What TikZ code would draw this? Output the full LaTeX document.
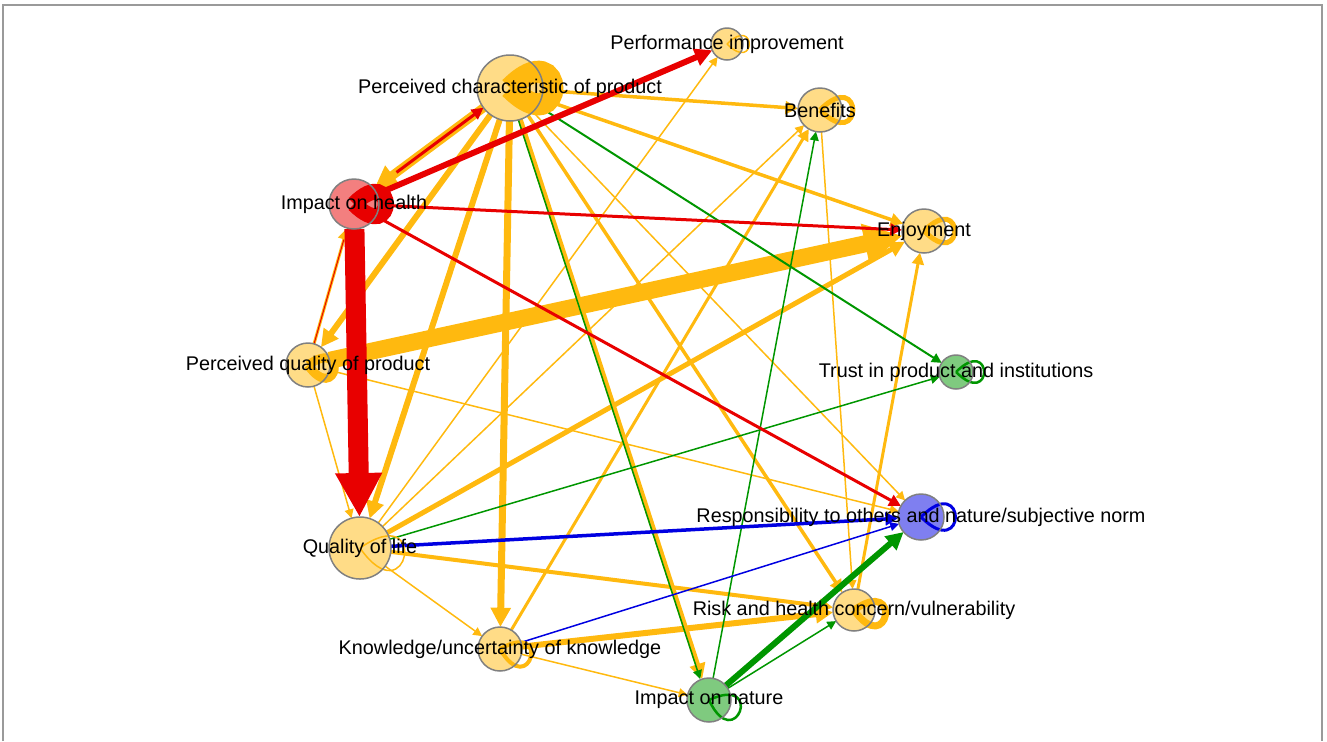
\documentclass[tikz,border=0pt]{standalone}
\usepackage{fontspec}
\setmainfont{Liberation Sans}
\usetikzlibrary{arrows.meta}
\definecolor{orng}{RGB}{255,185,15}
\definecolor{rd}{RGB}{232,0,0}
\definecolor{grn}{RGB}{0,150,0}
\definecolor{blu}{RGB}{0,0,225}
\definecolor{rim}{RGB}{128,128,128}
\def\selfloop[#1](#2)(#3:#4){\draw[#1] (#2.center) .. controls +({#3+45}:#4) and +({#3-45}:#4) .. (#2.center);}
\def\vertlist{pc/510/88/33/orng, pi/727/44/16/orng, ben/820/110/22/orng, enj/924/231/22/orng, tru/956/372/17/grn, res/921/517/23/blu, risk/854/610/21/orng, nat/709/700/22/grn, know/500/649/22/orng, qol/360/548/31/orng, pq/308/365/22/orng, hlth/354/204/25/rd}
\tikzset{
	vert/.style={circle, inner sep=0pt, outer sep=0pt, minimum size=#1},
	bead/.style={draw=rim, line width=0.75pt, fill opacity=0.5},
	link/.style={line width=#1*0.5pt, -{Triangle[length=3pt 1.9, width=3pt 1.9]}},
	bare/.style={line width=#1*0.5pt},
	tag/.style={font=\fontsize{9.9}{12}\selectfont, inner sep=0pt}
}

\begin{document}
\begin{tikzpicture}[x=0.5pt, y=-0.5pt]
			%%%%% START %%%%%
			\useasboundingbox (0,0) rectangle (1327,741);
			\draw[rim!80, line width=0.75pt] (3,741) -- (3,5) -- (1322,5) -- (1322,741);
			
			\foreach \n/\x/\y/\r/\c in \vertlist
				\node[vert=\r pt] (\n) at (\x,\y) {};
			
			% orange ties
			\draw[orng, link=1.5] (pq) -- (qol);
			\draw[orng, link=1.5] (pq) -- (res);
			\draw[orng, link=1.5] (qol) -- (pi);
			\draw[orng, link=1.5] (qol) -- (ben);
			\draw[orng, link=1.5] (qol) -- (know);
			\draw[orng, link=1.5] (know) -- (nat);
			\draw[orng, link=1.5] (ben) -- (risk);
			\draw[orng, link=1.5] (pc) -- (res);
			\draw[orng, link=3.5] (pc) -- (ben);
			\draw[orng, link=3.5] (pc) -- (enj);
			\draw[orng, link=3.5] (pc) -- (risk);
			\draw[orng, link=3] (risk) -- (enj);
			\draw[orng, link=3] (know) -- (ben);
			\draw[orng, link=4] (qol) -- (risk);
			\draw[orng, link=5] (qol) -- (enj);
			\draw[orng, link=6] (know) -- (risk);
			\draw[orng, link=5] (pc) -- (nat);
			\draw[orng, link=6] (pc) -- (pq);
			\draw[orng, link=6] (pc) -- (qol);
			\draw[orng, link=7] (pc) -- (know);
			\draw[orng, link=3] (pq) -- (hlth);
			\draw[orng, link=17] (pq) -- (enj);
			\draw[orng, link=9] (pc) -- (hlth);
			
			% green and blue ties
			\draw[grn, link=2] (pc) -- (tru);
			\draw[grn, link=1.5, transform canvas={xshift=-1pt}] (pc) -- (nat);
			\draw[grn, link=1.5] (qol) -- (tru);
			\draw[grn, link=1.5] (nat) -- (ben);
			\draw[grn, link=1.5] (nat) -- (risk);
			\draw[grn, link=6] (nat) -- (res);
			\draw[blu, link=1.5] (know) -- (res);
			\draw[blu, link=3.5] (qol) -- (res);
			
			% red ties
			\draw[rd, bare=1, shorten >=6pt] (pq) -- (hlth);
			\draw[rd, link=3, shorten <=14pt] (hlth) -- (pc);
			\draw[rd, link=3] (hlth) -- (enj);
			\draw[rd, link=3] (hlth) -- (res);
			\draw[rd, link=6] (hlth) -- (pi);
			\draw[rd, link=20] (hlth) -- (qol);
			
			% loops
			\selfloop[orng, bare=22](pc)(0:80)
			\selfloop[rd, bare=16](hlth)(0:60)
			\selfloop[orng, bare=1.5](pi)(0:42)
			\selfloop[orng, bare=5](ben)(0:62)
			\selfloop[orng, bare=5](enj)(0:58)
			\selfloop[grn, bare=2.5](tru)(0:53)
			\selfloop[blu, bare=3](res)(0:65)
			\selfloop[orng, bare=7](risk)(10:60)
			\selfloop[grn, bare=2.5](nat)(20:62)
			\selfloop[orng, bare=4](know)(15:60)
			\selfloop[orng, bare=1.5](qol)(10:85)
			\selfloop[orng, bare=9](pq)(10:50)
			
			\foreach \n/\x/\y/\r/\c in \vertlist
				\draw[bead, fill=\c] (\n) circle (\r);
			
			\node[tag] at (pc) {Perceived characteristic of product};
			\node[tag] at (pi) {Performance improvement};
			\node[tag] at (ben) {Benefits};
			\node[tag] at (enj) {Enjoyment};
			\node[tag] at (tru) {Trust in product and institutions};
			\node[tag] at (res) {Responsibility to others and nature/subjective norm};
			\node[tag] at (risk) {Risk and health concern/vulnerability};
			\node[tag] at (nat) {Impact on nature};
			\node[tag] at (know) {Knowledge/uncertainty of knowledge};
			\node[tag] at (qol) {Quality of life};
			\node[tag] at (pq) {Perceived quality of product};
			\node[tag] at (hlth) {Impact on health};
			%%%%% END %%%%%
\end{tikzpicture}
\end{document}
